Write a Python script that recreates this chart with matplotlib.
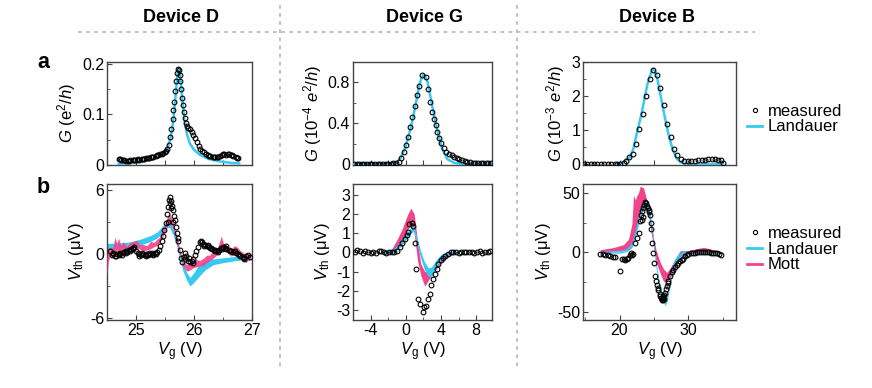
import numpy as np
import matplotlib
matplotlib.use("Agg")
import matplotlib.pyplot as plt
from matplotlib.lines import Line2D
from matplotlib.ticker import MultipleLocator

plt.rcParams['font.family'] = ['Liberation Sans', 'DejaVu Sans']
plt.rcParams['mathtext.fontset'] = 'custom'
plt.rcParams['mathtext.rm'] = 'Liberation Sans'
plt.rcParams['mathtext.it'] = 'Liberation Sans:italic'
plt.rcParams['mathtext.bf'] = 'Liberation Sans:bold'
plt.rcParams['axes.unicode_minus'] = False

CYAN = '#38c9f2'
PINK = '#f0458a'

# ---------------- Device D ----------------
d_top_vg = [24.70, 24.74, 24.78, 24.82, 24.86, 24.90, 24.94, 24.98, 25.02, 25.06, 25.10, 25.14,
            25.18, 25.22, 25.26, 25.30, 25.34, 25.38, 25.42, 25.46, 25.50, 25.54, 25.57, 25.59,
            25.61, 25.63, 25.645, 25.66, 25.675, 25.69, 25.705, 25.72, 25.735, 25.75, 25.765,
            25.78, 25.795, 25.81, 25.825, 25.84, 25.86, 25.88, 25.90, 25.93, 25.96, 25.99, 26.02,
            26.05, 26.08, 26.11, 26.14, 26.17, 26.20, 26.24, 26.28, 26.32, 26.36, 26.40, 26.44,
            26.48, 26.52, 26.56, 26.60, 26.64, 26.68, 26.72, 26.76,
            24.72, 24.80, 24.88, 24.96, 25.04, 25.12, 25.20, 25.28, 25.36, 25.44, 25.52,
            26.26, 26.34, 26.42, 26.50, 26.58, 26.66, 26.74]
d_top_g = [0.011, 0.010, 0.009, 0.008, 0.008, 0.009, 0.009, 0.010, 0.010, 0.010, 0.011, 0.012,
           0.013, 0.014, 0.015, 0.016, 0.018, 0.019, 0.021, 0.023, 0.026, 0.031, 0.040, 0.055,
           0.070, 0.090, 0.108, 0.125, 0.145, 0.165, 0.182, 0.190, 0.188, 0.178, 0.165,
           0.150, 0.133, 0.118, 0.104, 0.092, 0.082, 0.076, 0.073, 0.070, 0.066, 0.060, 0.054,
           0.046, 0.038, 0.032, 0.028, 0.025, 0.022, 0.020, 0.017, 0.016, 0.015, 0.015, 0.018,
           0.020, 0.021, 0.020, 0.022, 0.020, 0.017, 0.015, 0.013,
           0.012, 0.009, 0.008, 0.010, 0.011, 0.012, 0.014, 0.016, 0.019, 0.022, 0.028,
           0.018, 0.015, 0.016, 0.021, 0.021, 0.019, 0.014]
d_top_fit_vg = [24.70, 24.90, 25.10, 25.30, 25.45, 25.55, 25.60, 25.64, 25.67, 25.70, 25.72, 25.74,
                25.76, 25.78, 25.81, 25.84, 25.88, 25.93, 26.00, 26.10, 26.25, 26.45, 26.65, 26.78]
d_top_fit_g = [0.002, 0.004, 0.007, 0.012, 0.020, 0.035, 0.055, 0.085, 0.120, 0.160, 0.185, 0.190,
               0.180, 0.155, 0.115, 0.085, 0.060, 0.042, 0.030, 0.020, 0.012, 0.007, 0.004, 0.003]

d_bot_vg = [24.55, 24.58, 24.61, 24.64, 24.67, 24.70, 24.73, 24.76, 24.79, 24.82, 24.85, 24.88,
            24.91, 24.94, 24.97, 25.00, 25.03, 25.06, 25.09, 25.12, 25.15, 25.18, 25.21, 25.24,
            25.27, 25.30, 25.33, 25.36, 25.39, 25.42, 25.45, 25.47, 25.49, 25.51, 25.53, 25.55,
            25.57, 25.59, 25.61, 25.62, 25.64, 25.66, 25.67, 25.69, 25.70, 25.72, 25.73, 25.75,
            25.77, 25.80, 25.82, 25.84, 25.87, 25.90, 25.93, 25.96, 25.99, 26.01, 26.04, 26.07,
            26.10, 26.13, 26.16, 26.19, 26.22, 26.25, 26.28, 26.31, 26.34, 26.37, 26.40, 26.43,
            26.46, 26.50, 26.53, 26.56, 26.60, 26.64, 26.68, 26.72, 26.76, 26.80, 26.84, 26.87,
            26.90, 26.93, 26.96, 25.55, 25.60, 25.64, 25.58,
            24.595, 24.655, 24.715, 24.775, 24.835, 24.895, 24.955, 25.045, 25.105, 25.165,
            25.225, 25.285, 25.345, 25.85, 25.915, 25.975, 26.115, 26.175, 26.235, 26.295,
            26.355, 26.415, 26.475, 26.545, 26.62, 26.70, 26.78, 26.855]
d_bot_v = [0.3, -0.1, 0.1, -0.2, 0.0, -0.1, 0.1, -0.1, 0.2, 0.3, 0.2, 0.4,
           0.5, 0.6, 0.7, 0.3, 0.1, 0.0, -0.1, 0.0, -0.1, 0.0, -0.1, 0.0,
           0.1, 0.0, 0.1, 0.2, 0.4, 0.8, 1.2, 1.7, 2.3, 2.9, 3.8, 4.4,
           5.1, 5.4, 5.0, 4.5, 4.2, 3.6, 3.2, 2.6, 2.0, 1.5, 1.2, 0.4,
           -0.4, -0.7, -0.3, 0.1, -0.2, -0.6, -0.7, -0.6, -0.5, -0.1, 0.3, 0.7,
           1.1, 1.1, 1.0, 0.9, 0.8, 0.7, 0.6, 0.5, 0.4, 0.3, 0.3, 0.4,
           0.6, 0.7, 0.6, 0.5, 0.4, 0.25, 0.2, 0.1, 0.0, -0.2, -0.3, -0.4,
           -0.2, -0.1, -0.3, 3.0, 4.3, 3.0, 4.8,
           0.0, -0.2, 0.0, 0.1, 0.1, 0.3, 0.5, -0.2, 0.1, -0.2,
           0.1, -0.1, 0.0, -0.5, -0.4, -0.8, 1.2, 0.8, 0.9, 0.6,
           0.4, 0.2, 0.5, 0.8, 0.3, 0.3, -0.1, -0.5]
d_land_vg = [24.50, 24.70, 24.90, 25.10, 25.25, 25.36, 25.47, 25.54, 25.58, 25.64, 25.70, 25.76,
             25.81, 25.87, 25.93, 25.99, 26.07, 26.19, 26.33, 26.50, 26.73, 26.98]
d_land_lo = [0.45, 0.5, 0.6, 0.9, 1.2, 1.5, 2.1, 2.5, 2.5, 1.8, 0.8, -0.5,
             -1.6, -2.4, -3.0, -2.7, -2.2, -1.5, -1.0, -0.8, -0.6, -0.5]
d_land_hi = [1.0, 1.05, 1.15, 1.45, 1.75, 2.05, 2.7, 3.1, 3.0, 2.4, 1.4, 0.1,
             -0.9, -1.7, -2.2, -1.8, -1.1, -0.6, -0.45, -0.35, -0.2, -0.15]
d_mott_vg = [24.50, 24.52, 24.55, 24.60, 24.64, 24.67, 24.70, 24.74, 24.78, 24.84, 24.90, 24.96,
             25.01, 25.06, 25.12, 25.19, 25.25, 25.31, 25.36, 25.41, 25.45, 25.50, 25.54, 25.57,
             25.60, 25.64, 25.70, 25.76, 25.81, 25.87, 25.93, 25.98, 26.04, 26.10, 26.16, 26.22,
             26.27, 26.33, 26.39, 26.44, 26.47, 26.51, 26.56, 26.60, 26.64, 26.70, 26.76, 26.80,
             26.84, 26.89, 26.93, 26.98]
d_mott_lo = [-2.0, -0.8, -0.1, 0.1, -0.2, 0.4, 0.0, 0.3, 0.2, 0.3, 0.4, 0.7,
             0.6, 0.5, 0.3, 0.4, 0.5, 0.7, 0.8, 1.1, 1.5, 2.1, 2.7, 3.0,
             2.8, 2.4, 1.1, -0.1, -1.1, -1.6, -1.5, -1.3, -1.2, -1.1, -1.1, -0.8,
             -0.6, -0.4, -0.1, 0.3, 0.5, 0.3, 0.2, 0.0, -0.2, 0.0, 0.1, -0.3,
             -0.4, -0.8, -0.6, -0.5]
d_mott_hi = [-0.3, 0.5, 0.6, 0.6, 1.6, 1.0, 1.5, 0.8, 1.2, 0.7, 1.1, 1.2,
             1.3, 0.9, 0.9, 0.8, 1.2, 1.1, 1.4, 1.6, 2.1, 2.8, 3.5, 3.9,
             3.5, 3.1, 1.8, 0.4, -0.6, -1.0, -0.9, -0.6, -0.5, -0.6, -0.4, -0.1,
             -0.1, 0.4, 0.3, 1.2, 1.7, 1.0, 0.9, 0.6, 0.5, 0.8, 0.6, 0.3,
             0.2, -0.1, 0.0, 0.1]

# ---------------- Device G ----------------
g_top_vg = [-5.9, -5.6, -5.3, -5.0, -4.7, -4.4, -4.1, -3.8, -3.5, -3.2, -2.9, -2.6, -2.3, -2.0,
            -1.7, -1.4, -1.1, -0.8, -0.5, -0.25, 0.0, 0.25, 0.5, 0.75, 1.0, 1.25, 1.5, 1.8,
            2.3, 2.5, 2.75, 3.0, 3.2, 3.4, 3.6, 3.8, 4.0, 4.3, 4.6, 4.9, 5.2, 5.5, 5.8, 6.1,
            6.4, 6.7, 7.0, 7.3, 7.6, 7.9, 8.2, 8.5, 8.8, 9.1, 9.4, 9.7]
g_top_g = [0.003, 0.003, 0.003, 0.003, 0.003, 0.003, 0.003, 0.003, 0.003, 0.003, 0.003, 0.003,
           0.003, 0.003, 0.004, 0.005, 0.008, 0.02, 0.06, 0.12, 0.19, 0.26, 0.36, 0.46, 0.57,
           0.68, 0.76, 0.87, 0.85, 0.74, 0.61, 0.51, 0.44, 0.38, 0.31, 0.25, 0.21, 0.16, 0.12,
           0.10, 0.085, 0.07, 0.055, 0.045, 0.035, 0.028, 0.022, 0.018, 0.014, 0.011, 0.009,
           0.008, 0.007, 0.006, 0.006, 0.006]
g_top_fit_vg = [-6.0, -2.0, -1.16, -0.59, -0.02, 0.55, 1.12, 1.5, 1.8, 2.0, 2.2, 2.46, 3.03,
                3.6, 4.17, 4.74, 5.5, 6.2, 7.0, 9.8]
g_top_fit_g = [0.0, 0.0, 0.007, 0.056, 0.17, 0.35, 0.58, 0.76, 0.85, 0.875, 0.86, 0.81, 0.56,
               0.32, 0.14, 0.046, 0.01, 0.003, 0.0, 0.0]

g_bot_vg = [-5.8, -5.5, -5.2, -4.9, -4.6, -4.3, -4.0, -3.7, -3.4, -3.1, -2.8, -2.5, -2.2, -1.9,
            -1.6, -1.3, -1.0, -0.7, -0.4, -0.1, 0.1, 0.3, 0.4, 0.65, 0.8, 1.0, 1.2, 1.4, 1.6,
            1.9, 2.1, 2.35, 2.55, 2.7, 2.9, 3.1, 3.3, 3.5, 3.7, 3.95, 4.2, 4.5, 4.8, 5.1, 5.4,
            5.7, 6.0, 6.3, 6.6, 6.9, 7.2, 7.5, 7.8, 8.1, 8.4, 8.7, 9.0, 9.3, 9.6]
g_bot_v = [0.05, 0.12, 0.08, -0.03, 0.1, 0.04, -0.03, 0.0, -0.05, 0.07, 0.1, 0.0, -0.05, 0.05,
           0.05, 0.0, 0.08, 0.3, 0.5, 0.68, 0.9, 1.05, 1.5, 1.55, 1.36, 0.5, -0.87, -2.4, -2.66,
           -3.1, -2.85, -2.8, -2.4, -2.15, -1.7, -1.4, -1.1, -0.88, -0.6, -0.38, -0.3, -0.18,
           -0.08, 0.0, 0.05, 0.03, -0.02, 0.05, 0.02, 0.05, 0.0, 0.05, -0.03, 0.05, 0.08, -0.02,
           0.05, 0.0, 0.1]
g_land_vg = [-2.5, -1.34, -0.57, 0.0, 0.57, 0.88, 1.26, 1.71, 2.09, 2.55, 2.94, 3.43, 4.0, 4.76, 5.71]
g_land_lo = [-0.08, 0.0, 0.3, 0.65, 1.0, 1.1, 0.45, -0.3, -0.85, -1.25, -1.2, -0.8, -0.4, -0.12, -0.06]
g_land_hi = [0.08, 0.2, 0.55, 0.95, 1.3, 1.4, 0.8, 0.05, -0.45, -0.8, -0.75, -0.4, -0.1, 0.05, 0.06]
g_mott_vg = [-1.71, -0.95, -0.38, 0.19, 0.57, 0.95, 1.33, 1.71, 2.17, 2.67, 3.24, 3.8, 4.38, 5.14, 5.71]
g_mott_lo = [0.0, 0.25, 0.55, 1.15, 1.5, 1.0, -0.4, -1.2, -1.75, -1.35, -1.0, -0.65, -0.35, -0.15, -0.05]
g_mott_hi = [0.1, 0.7, 1.25, 1.95, 2.3, 2.0, 0.6, -0.6, -1.0, -0.9, -0.7, -0.4, -0.2, -0.05, 0.05]

# ---------------- Device B ----------------
b_top_vg = [14.8, 15.3, 15.8, 16.3, 16.8, 17.3, 17.8, 18.3, 18.8, 19.3, 19.7, 20.1, 20.6, 21.0,
            21.4, 21.9, 22.4, 22.85, 23.4, 23.9, 24.35, 24.9, 25.4, 25.9, 26.4, 26.9, 27.4, 27.9,
            28.4, 28.9, 29.4, 29.9, 30.4, 30.9, 31.4, 31.9, 32.4, 32.9, 33.4, 33.9, 34.3, 34.7, 35.0]
b_top_g = [0.0, 0.0, 0.0, 0.0, 0.0, 0.005, 0.005, 0.01, 0.01, 0.01, 0.015, 0.02, 0.05, 0.1,
           0.2, 0.3, 0.6, 1.03, 1.49, 2.0, 2.5, 2.77, 2.61, 2.24, 1.75, 1.19, 0.79, 0.45,
           0.27, 0.15, 0.11, 0.1, 0.1, 0.11, 0.12, 0.13, 0.14, 0.15, 0.15, 0.15, 0.14, 0.12, 0.05]
b_top_fit_vg = [19.5, 20.3, 20.8, 21.55, 22.0, 22.5, 23.2, 23.6, 24.06, 24.5, 24.83, 25.1, 25.5,
                26.1, 26.5, 26.86, 27.2, 27.6, 28.0, 28.3, 28.8, 29.3, 30.0, 35.0]
b_top_fit_g = [0.0, 0.05, 0.1, 0.22, 0.45, 0.9, 1.49, 1.9, 2.36, 2.65, 2.8, 2.75, 2.5,
               1.87, 1.45, 1.1, 0.8, 0.51, 0.3, 0.17, 0.07, 0.03, 0.0, 0.0]

b_bot_vg = [17.2, 17.6, 17.9, 18.3, 18.65, 19.0, 19.4, 20.0, 20.35, 20.6, 20.85, 21.1, 21.3, 21.5,
            21.65, 21.8, 21.95, 22.28, 22.52, 22.76, 22.9, 23.1, 23.25, 23.4, 23.6, 23.75, 23.87,
            24.0, 24.11, 24.25, 24.35, 24.5, 24.6, 24.7, 24.84, 25.03, 25.17, 25.3, 25.42, 25.55,
            25.65, 25.8, 25.9, 26.0, 26.14, 26.25, 26.38, 26.5, 26.62, 26.75, 26.87, 27.0, 27.1,
            27.35, 27.6, 27.83, 28.05, 28.3, 28.55, 28.8, 29.05, 29.28, 29.5, 29.77, 30.0, 30.3,
            30.6, 30.9, 31.2, 31.5, 31.8, 32.1, 32.4, 32.7, 33.0, 33.3, 33.6, 33.9, 34.2, 34.5,
            34.7, 23.2, 23.45, 26.3, 26.45, 24.3]
b_bot_v = [-1.4, -1.5, -2.0, -2.5, -3.4, -3.6, -4.2, -16.0, -5.3, -6.0, -6.7, -5.5, -4.8, -2.0,
           -0.6, -2.5, -1.5, 7.8, 12.0, 16.0, 26.0, 31.8, 35.0, 37.0, 40.0, 42.0, 41.6,
           39.0, 37.0, 34.0, 31.8, 25.0, 20.0, 7.8, -0.6, -9.0, -20.2, -24.0, -27.2, -30.0,
           -31.5, -35.0, -37.1, -38.5, -39.9, -40.0, -38.5, -36.0, -34.3, -31.0, -28.7, -26.0, -24.4,
           -20.2, -17.0, -14.6, -12.0, -10.4, -9.0, -7.6, -6.3, -5.3, -3.5, -2.5, -1.5, -0.8,
           -0.4, -0.2, 0.0, 0.0, 0.0, 0.2, 0.2, 0.0, 0.0, -0.3, -0.3, -0.5, -0.8, -1.3,
           -2.0, 27.0, 30.0, -37.0, -39.0, 36.0]
b_land_vg = [17.2, 20.1, 21.07, 21.8, 22.28, 22.76, 23.24, 23.72, 24.2, 24.7, 25.17, 25.65, 26.14,
             26.62, 26.96, 27.35, 27.83, 28.55, 29.28, 30.0, 35.0]
b_land_lo = [-1.0, -0.8, 0.5, 4.0, 11.0, 23.0, 34.0, 39.0, 33.0, 16.0, -8.0, -27.0, -40.0,
             -45.0, -41.0, -27.0, -14.0, -6.0, -2.0, -0.5, -0.5]
b_land_hi = [1.0, 1.5, 3.5, 9.0, 19.0, 32.0, 40.0, 44.0, 40.0, 24.0, -1.0, -21.0, -33.0,
             -39.0, -35.0, -21.0, -7.0, -1.0, 1.5, 1.0, 0.8]
b_mott_vg = [17.2, 19.13, 20.58, 21.3, 21.8, 22.03, 22.3, 22.52, 22.75, 23.0, 23.48, 23.87, 24.2,
             24.55, 24.93, 25.32, 25.9, 26.38, 26.87, 27.35, 28.07, 28.8, 29.8, 32.2, 33.6, 34.8]
b_mott_lo = [-0.6, 1.0, 1.4, 2.2, 4.8, 10.5, 15.0, 20.0, 26.0, 31.8, 40.0, 38.0, 31.8,
             17.6, 4.8, -8.4, -17.6, -24.4, -24.4, -21.0, -14.6, -4.8, -1.4, 0.8, 0.0, -0.3]
b_mott_hi = [2.2, 4.0, 6.5, 11.0, 24.0, 48.0, 44.0, 47.8, 50.0, 55.6, 54.2, 45.8, 37.0,
             26.0, 12.0, 1.4, -8.4, -14.0, -17.0, -13.0, -6.0, 1.4, 1.4, 4.2, 2.2, 0.3]

# ---------------- figure ----------------
W, H = 872, 388
fig = plt.figure(figsize=(W / 100, H / 100), dpi=100)

TICK_FS = 11.5
LABEL_FS = 12


def box(x0, y0, x1, y1):
    return [x0 / W, 1 - y1 / H, (x1 - x0) / W, (y1 - y0) / H]


def style(ax, xmaj, xmin, ymaj, ymin, labels_x=True):
    for s in ax.spines.values():
        s.set_color('#444444')
        s.set_linewidth(1.0)
    ax.xaxis.set_major_locator(MultipleLocator(xmaj))
    ax.xaxis.set_minor_locator(MultipleLocator(xmin))
    ax.yaxis.set_major_locator(MultipleLocator(ymaj))
    ax.yaxis.set_minor_locator(MultipleLocator(ymin))
    ax.tick_params(which='both', direction='in', top=False, right=False, labelsize=TICK_FS,
                   color='#444444', pad=2)
    ax.tick_params(which='major', length=3.5)
    ax.tick_params(which='minor', length=2.5)
    if not labels_x:
        ax.tick_params(axis='x', which='both', labelbottom=False)


meas_kw = dict(ls='none', marker='o', ms=3.4, mfc='none', mec='black', mew=0.8, zorder=5)

cols = [(107, 252), (353, 492), (583, 736)]
top_y = (62, 165)
bot_y = (184, 320)

axD1 = fig.add_axes(box(cols[0][0], top_y[0], cols[0][1], top_y[1]))
axD2 = fig.add_axes(box(cols[0][0], bot_y[0], cols[0][1], bot_y[1]))
axG1 = fig.add_axes(box(cols[1][0], top_y[0], cols[1][1], top_y[1]))
axG2 = fig.add_axes(box(cols[1][0], bot_y[0], cols[1][1], bot_y[1]))
axB1 = fig.add_axes(box(cols[2][0], top_y[0], cols[2][1], top_y[1]))
axB2 = fig.add_axes(box(cols[2][0], bot_y[0], cols[2][1], bot_y[1]))

# Device D
axD1.plot(d_top_fit_vg, d_top_fit_g, color=CYAN, lw=1.8, zorder=3)
axD1.plot(d_top_vg, d_top_g, **meas_kw)
axD1.set_xlim(24.5, 27)
axD1.set_ylim(0, 0.203)
style(axD1, 0.5, 0.5, 0.1, 0.05, labels_x=False)
axD1.set_yticks([0, 0.1, 0.2], ['0', '0.1', '0.2'])
axD1.set_ylabel(r'$G$ (e$^2$/$h$)', fontsize=LABEL_FS, labelpad=3)

axD2.fill_between(d_land_vg, d_land_lo, d_land_hi, color=CYAN, lw=0, zorder=2)
axD2.fill_between(d_mott_vg, d_mott_lo, d_mott_hi, color=PINK, lw=0, alpha=0.9, zorder=3)
axD2.plot(d_bot_vg, d_bot_v, **meas_kw)
axD2.set_xlim(24.5, 27)
axD2.set_ylim(-6.2, 6.6)
style(axD2, 1, 0.5, 6, 3)
axD2.set_ylabel(r'$V_{\rm th}$ (μV)', fontsize=LABEL_FS, labelpad=3)
axD2.set_xlabel(r'$V_{\rm g}$ (V)', fontsize=LABEL_FS, labelpad=2)

# Device G
axG1.plot(g_top_fit_vg, g_top_fit_g, color=CYAN, lw=1.8, zorder=3)
axG1.plot(g_top_vg, g_top_g, **meas_kw)
axG1.set_xlim(-6, 9.8)
axG1.set_ylim(-0.01, 1.0)
style(axG1, 2, 2, 0.4, 0.2, labels_x=False)
axG1.set_yticks([0, 0.4, 0.8], ['0', '0.4', '0.8'])
axG1.set_ylabel(r'$G$ (10$^{-4}$ $e^2/h$)', fontsize=LABEL_FS, labelpad=3)

axG2.fill_between(g_land_vg, g_land_lo, g_land_hi, color=CYAN, lw=0, zorder=3)
axG2.fill_between(g_mott_vg, g_mott_lo, g_mott_hi, color=PINK, lw=0, zorder=2)
axG2.plot(g_bot_vg, g_bot_v, **meas_kw)
axG2.set_xlim(-6, 9.8)
axG2.set_ylim(-3.5, 3.55)
style(axG2, 4, 2, 1, 1)
axG2.set_ylabel(r'$V_{\rm th}$ (μV)', fontsize=LABEL_FS, labelpad=3)
axG2.set_xlabel(r'$V_{\rm g}$ (V)', fontsize=LABEL_FS, labelpad=2)

# Device B
axB1.plot(b_top_fit_vg, b_top_fit_g, color=CYAN, lw=1.8, zorder=3)
axB1.plot(b_top_vg, b_top_g, **meas_kw)
axB1.set_xlim(14.7, 36.9)
axB1.set_ylim(-0.02, 3.0)
style(axB1, 5, 5, 1, 0.5, labels_x=False)
axB1.set_ylabel(r'$G$ (10$^{-3}$ $e^2/h$)', fontsize=LABEL_FS, labelpad=3)

axB2.fill_between(b_mott_vg, b_mott_lo, b_mott_hi, color=PINK, lw=0, zorder=2)
axB2.fill_between(b_land_vg, b_land_lo, b_land_hi, color=CYAN, lw=0, alpha=0.85, zorder=3)
axB2.plot(b_bot_vg, b_bot_v, **meas_kw)
axB2.set_xlim(14.7, 36.9)
axB2.set_ylim(-57, 57.5)
style(axB2, 10, 5, 50, 25)
axB2.set_ylabel(r'$V_{\rm th}$ (μV)', fontsize=LABEL_FS, labelpad=3)
axB2.set_xlabel(r'$V_{\rm g}$ (V)', fontsize=LABEL_FS, labelpad=2)

# titles, panel letters, separators
for label, xc in [('Device D', 181), ('Device G', 424), ('Device B', 657)]:
    fig.text(xc / W, 1 - 18 / H, label, ha='center', va='center', fontsize=13, fontweight='bold')
fig.text(43 / W, 1 - 62 / H, 'a', ha='center', va='center', fontsize=15.5, fontweight='bold')
fig.text(43 / W, 1 - 187 / H, 'b', ha='center', va='center', fontsize=15.5, fontweight='bold')

sep_kw = dict(color='#bbbbbb', lw=1.3, ls=(0, (2, 2.5)), transform=fig.transFigure)
fig.add_artist(Line2D([78 / W, 755 / W], [1 - 32 / H, 1 - 32 / H], **sep_kw))
for xs in (280, 517):
    fig.add_artist(Line2D([xs / W, xs / W], [1 - 5 / H, 1 - 367 / H], **sep_kw))

# legends
h_meas = Line2D([], [], ls='none', marker='o', ms=3, mfc='none', mec='black', mew=0.8)
h_land = Line2D([], [], color=CYAN, lw=2)
h_mott = Line2D([], [], color=PINK, lw=2)
leg_kw = dict(frameon=False, fontsize=12, handlelength=0.9, handletextpad=0.35,
              labelspacing=0.05, borderpad=0, borderaxespad=0, loc='center left')
fig.legend([h_meas, h_land], ['measured', 'Landauer'],
           bbox_to_anchor=(747 / W, 1 - 119 / H), **leg_kw)
fig.legend([h_meas, h_land, h_mott], ['measured', 'Landauer', 'Mott'],
           bbox_to_anchor=(747 / W, 1 - 249 / H), **leg_kw)

fig.savefig('out.png', dpi=100)
